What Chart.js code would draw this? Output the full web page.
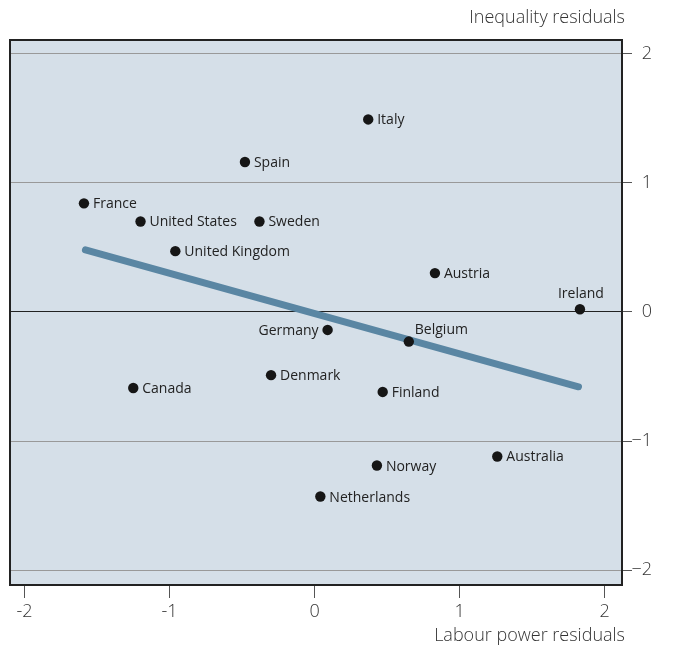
<!DOCTYPE html>
<html>
<head>
<meta charset="utf-8">
<script src="https://cdn.jsdelivr.net/npm/chart.js@4/dist/chart.umd.min.js"></script>
<style>
  html, body { margin: 0; padding: 0; background: #ffffff; }
  #wrap { width: 676px; height: 651px; }
</style>
</head>
<body>
<div id="wrap"><canvas id="c" width="676" height="651"></canvas></div>
<script>
// Countries and their residuals
const countries = ['Italy', 'Spain', 'France', 'United States', 'Sweden', 'United Kingdom',
  'Austria', 'Ireland', 'Germany', 'Belgium', 'Denmark', 'Canada', 'Finland',
  'Australia', 'Norway', 'Netherlands'];
const labourPower = [0.37, -0.48, -1.59, -1.20, -0.38, -0.96,
  0.83, 1.83, 0.09, 0.65, -0.30, -1.25, 0.47,
  1.26, 0.43, 0.04];
const inequality = [1.49, 1.16, 0.84, 0.70, 0.70, 0.47,
  0.30, 0.02, -0.14, -0.23, -0.49, -0.59, -0.62,
  -1.12, -1.19, -1.43];

// Fitted line end points
const fitX = [-1.58, 1.82];
const fitY = [0.48, -0.58];

// Axis ticks
const xTicks = [-2, -1, 0, 1, 2];
const yTicks = [-2, -1, 0, 1, 2];

const xTitle = 'Labour power residuals';
const yTitle = 'Inequality residuals';

const FONT = '"Open Sans", "Liberation Sans", Arial, sans-serif';
const INK = '#222222';

const pointData = labourPower.map((x, i) => ({ x: x, y: inequality[i] }));
const fitData = fitX.map((x, i) => ({ x: x, y: fitY[i] }));

// Where a country's name sits relative to its dot
const placement = {
  'Germany': { dx: -9, dy: 1, align: 'right' },
  'Ireland': { dx: 1, dy: -15, align: 'center' },
  'Belgium': { dx: 6, dy: -12, align: 'left' }
};

const framePlugin = {
  id: 'frame',
  beforeDraw(chart) {
    const a = chart.chartArea, ctx = chart.ctx;
    ctx.save();
    ctx.fillStyle = '#d5dfe8';
    ctx.fillRect(a.left, a.top, a.right - a.left, a.bottom - a.top);
    ctx.restore();
  },
  afterDatasetsDraw(chart) {
    const a = chart.chartArea, ctx = chart.ctx;
    ctx.save();
    // country names
    const meta = chart.getDatasetMeta(1);
    ctx.font = '14px ' + FONT;
    ctx.fillStyle = INK;
    ctx.textBaseline = 'middle';
    meta.data.forEach((pt, i) => {
      const name = countries[i];
      const p = placement[name] || { dx: 9, dy: 1, align: 'left' };
      ctx.textAlign = p.align;
      ctx.fillText(name, pt.x + p.dx, pt.y + p.dy);
    });
    // frame
    ctx.strokeStyle = '#222222';
    ctx.lineWidth = 2;
    ctx.strokeRect(a.left, a.top, a.right - a.left, a.bottom - a.top);
    // axis titles
    ctx.font = '300 18px ' + FONT;
    ctx.fillStyle = '#333333';
    ctx.textAlign = 'right';
    ctx.textBaseline = 'middle';
    ctx.fillText(yTitle, a.right + 3, 18);
    ctx.fillText(xTitle, a.right + 3, 636);
    ctx.restore();
  }
};

new Chart(document.getElementById('c'), {
  type: 'scatter',
  data: {
    datasets: [
      {
        type: 'line',
        data: fitData,
        borderColor: '#5a86a3',
        borderWidth: 7,
        borderCapStyle: 'round',
        pointRadius: 0,
        fill: false,
        order: 2
      },
      {
        data: pointData,
        backgroundColor: '#161616',
        borderColor: '#161616',
        pointRadius: 5.2,
        borderWidth: 0,
        order: 1
      }
    ]
  },
  options: {
    responsive: false,
    animation: false,
    events: [],
    layout: { padding: { top: 40, left: 10, right: 24, bottom: 0 } },
    plugins: { legend: { display: false }, tooltip: { enabled: false } },
    scales: {
      x: {
        type: 'linear',
        min: -2.1,
        max: 2.12,
        afterBuildTicks: s => { s.ticks = xTicks.map(v => ({ value: v })); },
        afterFit: s => { s.height = 66; },
        border: { display: false },
        grid: { drawOnChartArea: false, drawTicks: true, tickLength: 13, color: '#555555', lineWidth: 1 },
        ticks: {
          padding: 3,
          color: '#333333',
          font: { family: FONT, size: 18, weight: '300' },
          callback: v => (v < 0 ? '-' + Math.abs(v) : String(v))
        }
      },
      y: {
        type: 'linear',
        position: 'right',
        min: -2.115,
        max: 2.105,
        afterBuildTicks: s => { s.ticks = yTicks.map(v => ({ value: v })); },
        afterFit: s => { s.width = 30; },
        border: { display: false },
        grid: {
          color: c => (c.tick && c.tick.value === 0 ? '#222222' : '#999999'),
          tickColor: '#555555',
          lineWidth: 1,
          tickLength: 10
        },
        ticks: {
          crossAlign: 'far',
          padding: 3,
          color: '#333333',
          font: { family: FONT, size: 18, weight: '300' },
          callback: v => (v < 0 ? '\u2212' + Math.abs(v) : String(v))
        }
      }
    }
  },
  plugins: [framePlugin]
});
</script>
</body>
</html>
